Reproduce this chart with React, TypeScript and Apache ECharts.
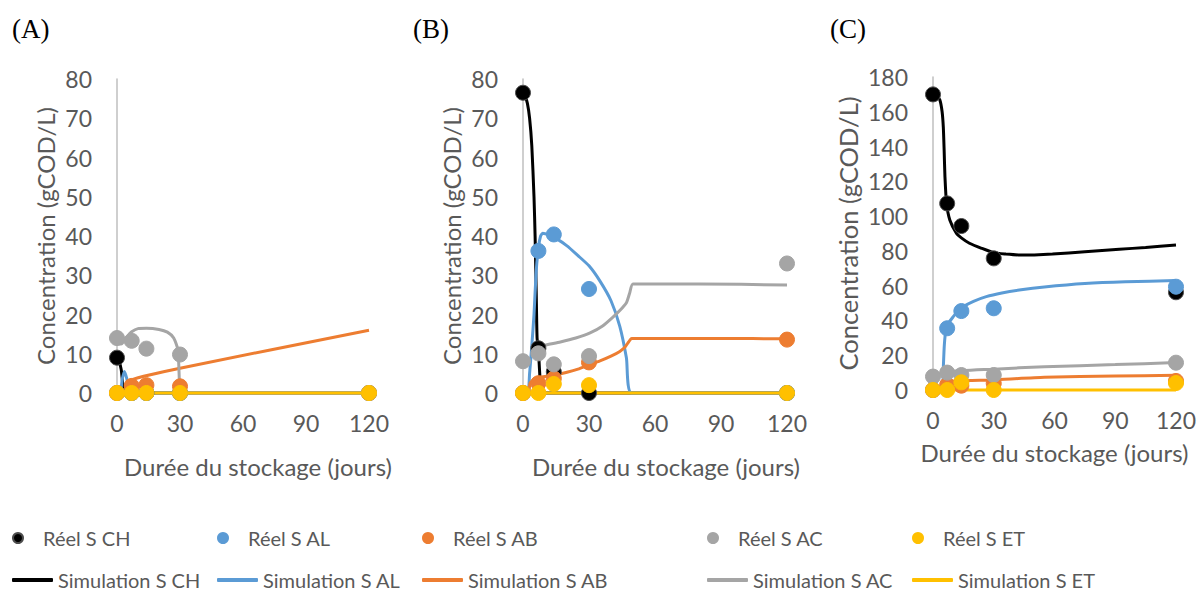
import React, { useEffect, useRef } from "react";
import * as echarts from "echarts";

// ---------- data ----------
const DAYS = [0, 7, 14, 30, 120];
const X_TICKS = [0, 30, 60, 90, 120];
const PANEL_LABELS = ["(A)", "(B)", "(C)"];
const REAL_NAMES = ["Réel S CH", "Réel S AL", "Réel S AB", "Réel S AC", "Réel S ET"];
const SIM_NAMES = ["Simulation S CH", "Simulation S AL", "Simulation S AB", "Simulation S AC", "Simulation S ET"];
const COLORS = ["#000000", "#5B9BD5", "#ED7D31", "#A5A5A5", "#FFC000"];
const Y_MAX = [80, 80, 180];
const Y_STEP = [10, 10, 20];

// Panel A — measured values
const A_CH = [9, 0, 0, 0, 0];
const A_AL = [0, 0, 0, 0, 0];
const A_AB = [0, 1.8, 2.0, 1.7, 0];
const A_AC = [14, 13.3, 11.3, 9.8, 0];
const A_ET = [0, 0, 0, 0, 0];
// Panel A — simulations [day, value]
const A_SIM_CH = [[0, 9], [1, 8], [2, 6], [2.6, 3], [3.2, 0.5], [4, 0], [120, 0]];
const A_SIM_AL = [[0, 0], [1.5, 0], [2.5, 3.5], [3.5, 5.5], [4.5, 4], [5.5, 1.5], [6.2, 0], [120, 0]];
const A_SIM_AB = [[0, 0], [4, 0], [5, 3], [30, 6.3], [120, 16]];
const A_SIM_AC = [[0, 14], [1, 12.6], [2, 12.5], [3, 13], [5, 14.5], [7, 15.6], [10, 16.4], [14, 16.5], [20, 16.2], [24, 15.5], [27, 14], [29, 11], [29.7, 3], [30, 0], [120, 0]];
const A_SIM_ET = [[0, 0], [120, 0]];

// Panel B — measured values
const B_CH = [76.5, 11.4, 5.4, 0, 0];
const B_AL = [0, 36.2, 40.4, 26.5, 0];
const B_AB = [0, 2.5, 3.7, 7.8, 13.6];
const B_AC = [8.1, 10.1, 7.3, 9.4, 33];
const B_ET = [0, 0, 2.3, 2.0, 0];
// Panel B — simulations
const B_SIM_CH = [[0, 76.5], [1, 75.5], [2, 73.8], [3, 70], [4, 63], [5, 50], [5.5, 40], [6, 26], [6.4, 14], [7, 11], [7.5, 6], [8, 1.5], [8.6, 0], [120, 0]];
const B_SIM_AL = [[0, 0], [2.2, 0], [3, 5], [4, 12], [5, 20], [6, 31], [7, 37], [8, 40], [9, 40.7], [12, 40.2], [15, 39.4], [20, 37.5], [25, 35], [30, 32.4], [35, 28.5], [40, 23.5], [44, 17], [47, 9], [49.4, 0], [120, 0]];
const B_SIM_AB = [[0, 0], [2.5, 0], [3.2, 2.5], [5.5, 3.7], [10, 4.2], [14.5, 4.6], [20, 5.3], [25, 6.1], [29.7, 7.1], [35, 8.2], [40, 9.4], [44, 10.6], [46.5, 11.8], [48, 13], [49.4, 13.9], [60, 13.9], [90, 13.9], [120, 13.8]];
const B_SIM_AC = [[6.5, 11.6], [10, 12.2], [17, 13], [24, 14], [30.5, 15.3], [36, 17], [41, 19.4], [44, 21], [47, 23], [48.5, 25.5], [50, 27.8], [80, 27.8], [120, 27.5]];
const B_SIM_ET = [[0, 0], [120, 0]];

// Panel C — measured values
const C_CH = [170, 107.3, 94.3, 75.7, 56.2];
const C_AL = [0, 35.5, 45.4, 47, 59.4];
const C_AB = [0, 3, 2.5, 3.8, 5.2];
const C_AC = [7.7, 10, 8.6, 8.6, 15.7];
const C_ET = [0, 0, 4.4, 0, 4];
// Panel C — simulations
const C_SIM_CH = [[0, 170], [2, 169], [3.4, 166.8], [4.5, 160], [5.1, 151], [5.5, 138], [5.9, 122.7], [6.7, 107.3], [8.3, 97.8], [11.6, 90.1], [14, 87.5], [18, 84.4], [24, 81.5], [30, 79], [36, 78.2], [43, 77.6], [50, 77.7], [59, 78.2], [75, 79.5], [92, 80.9], [105, 82], [120, 83.4]];
const C_SIM_AL = [[0, 0], [4.6, 0], [5.1, 13], [5.6, 26], [6.4, 34.5], [8, 39], [10, 42.2], [12, 45], [14.9, 47.9], [20, 51], [26.3, 53.7], [34, 55.8], [42.6, 57.5], [55, 59.3], [75, 61.3], [95, 62.3], [120, 62.9]];
const C_SIM_AB = [[0, 0], [4, 0], [4.5, 4.5], [30, 5.8], [55, 7.3], [90, 8.0], [120, 8.5]];
const C_SIM_AC = [[0, 7.7], [7, 10.5], [30, 12], [55, 13.4], [90, 14.6], [120, 15.8]];
const C_SIM_ET = [[0, 0], [120, 0]];

const REAL = [
  [A_CH, A_AL, A_AB, A_AC, A_ET],
  [B_CH, B_AL, B_AB, B_AC, B_ET],
  [C_CH, C_AL, C_AB, C_AC, C_ET],
];
const SIM = [
  [A_SIM_CH, A_SIM_AL, A_SIM_AB, A_SIM_AC, A_SIM_ET],
  [B_SIM_CH, B_SIM_AL, B_SIM_AB, B_SIM_AC, B_SIM_ET],
  [C_SIM_CH, C_SIM_AL, C_SIM_AB, C_SIM_AC, C_SIM_ET],
];

// ---------- layout ----------
const GRIDS = [
  { left: 117, top: 79, width: 252, height: 314 },
  { left: 523, top: 79, width: 264, height: 314 },
  { left: 933, top: 77, width: 245, height: 313 },
];
const Y_NAME_GAP = [60, 60, 72];
const X_NAME_GAP = [61, 61, 50];
const X_NAME_PAD = [30, 22, 0];
const PANEL_LABEL_X = [12, 413, 830];
const LEGEND_LEFT = [12, 217, 422, 707, 912];

const FONT = "Lato, 'Open Sans', sans-serif";
const GREY_TEXT = "#595959";

export default function App() {
  const ref = useRef<HTMLDivElement>(null);
  useEffect(() => {
    if (!ref.current) return;
    const chart = echarts.init(ref.current, undefined, { renderer: "svg" });

    const xAxis: any[] = [];
    const yAxis: any[] = [];
    const series: any[] = [];
    for (let p = 0; p < 3; p++) {
      xAxis.push({
        type: "value",
        gridIndex: p,
        min: X_TICKS[0],
        max: X_TICKS[X_TICKS.length - 1],
        interval: 30,
        axisLine: { show: true, lineStyle: { color: "#D9D9D9", width: 1 } },
        axisTick: { show: false },
        splitLine: { show: false },
        axisLabel: { color: GREY_TEXT, fontFamily: FONT, fontSize: 23, margin: 18 },
        name: "Durée du stockage (jours)",
        nameLocation: "middle",
        nameGap: X_NAME_GAP[p],
        nameTextStyle: { color: GREY_TEXT, fontFamily: FONT, fontSize: 24, padding: [0, 0, 0, X_NAME_PAD[p]] },
      });
      yAxis.push({
        type: "value",
        gridIndex: p,
        min: 0,
        max: Y_MAX[p],
        interval: Y_STEP[p],
        axisLine: { show: true, lineStyle: { color: "#BFBFBF", width: 1.5 } },
        axisTick: { show: false },
        splitLine: { show: false },
        axisLabel: { color: GREY_TEXT, fontFamily: FONT, fontSize: 23, margin: 25 },
        name: "Concentration (gCOD/L)",
        nameLocation: "middle",
        nameRotate: 90,
        nameGap: Y_NAME_GAP[p],
        nameTextStyle: { color: GREY_TEXT, fontFamily: FONT, fontSize: p === 2 ? 25.5 : 24 },
      });
      for (let s = 0; s < 5; s++) {
        series.push({
          type: "line",
          name: SIM_NAMES[s],
          xAxisIndex: p,
          yAxisIndex: p,
          data: SIM[p][s],
          showSymbol: false,
          symbol: "none",
          smooth: 0.2,
          clip: false,
          lineStyle: { color: COLORS[s], width: 3 },
          itemStyle: { color: COLORS[s] },
          z: 2,
        });
      }
      for (let s = 0; s < 5; s++) {
        series.push({
          type: "scatter",
          name: REAL_NAMES[s],
          xAxisIndex: p,
          yAxisIndex: p,
          data: DAYS.map((d, i) => [d, REAL[p][s][i]]),
          symbol: "circle",
          symbolSize: 15,
          clip: false,
          itemStyle: {
            color: COLORS[s],
            borderColor: s === 0 ? "#4d4d4d" : COLORS[s],
            borderWidth: 1,
            opacity: 1,
          },
          z: 3 + s,
        });
      }
    }

    const legend: any[] = [];
    for (let s = 0; s < 5; s++) {
      legend.push({
        left: LEGEND_LEFT[s],
        top: 528,
        padding: 0,
        itemWidth: 40,
        itemHeight: 10,
        selectedMode: false,
        data: [{ name: REAL_NAMES[s], icon: "circle" }],
        textStyle: { color: GREY_TEXT, fontFamily: FONT, fontSize: 20 },
      });
      legend.push({
        left: LEGEND_LEFT[s],
        top: 570,
        padding: 0,
        itemWidth: 41,
        itemHeight: 4,
        selectedMode: false,
        data: [{ name: SIM_NAMES[s], icon: "roundRect" }],
        textStyle: { color: GREY_TEXT, fontFamily: FONT, fontSize: 20 },
      });
    }

    const graphic = PANEL_LABELS.map((t, i) => ({
      type: "text",
      left: PANEL_LABEL_X[i],
      top: 15,
      style: { text: t, fill: "#000", font: "27px 'Liberation Serif', 'Times New Roman', serif" },
    }));

    chart.setOption({
      animation: false,
      backgroundColor: "#ffffff",
      grid: GRIDS.map((g) => ({ ...g, containLabel: false })),
      xAxis,
      yAxis,
      series,
      legend,
      graphic,
    });
    return () => chart.dispose();
  }, []);
  return (
    <div
      ref={ref}
      style={{ position: "fixed", left: 0, top: 0, width: 1199, height: 593, background: "#fff" }}
    />
  );
}
